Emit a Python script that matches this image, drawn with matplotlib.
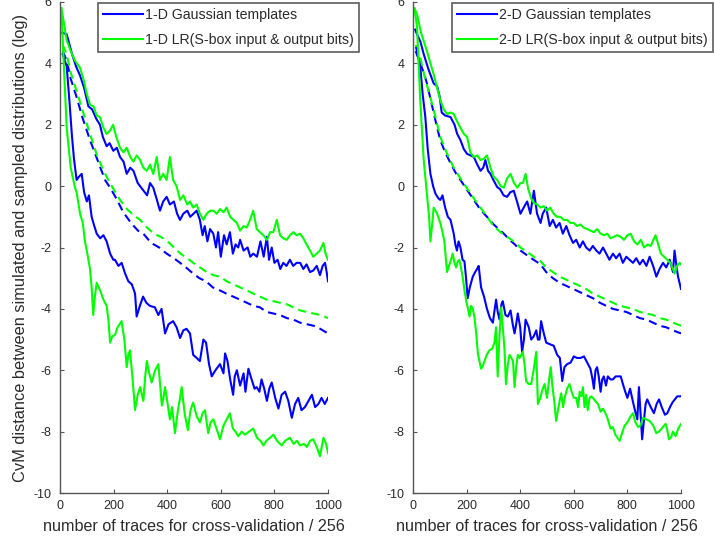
import matplotlib
matplotlib.use("Agg")
import matplotlib.pyplot as plt

plt.rcParams['font.family'] = ['Liberation Sans', 'DejaVu Sans']
plt.rcParams['axes.unicode_minus'] = False

# ---------------- 1-D panel ----------------
g1_up_x = [8,25,45,60,75,90,106,120,135,149,160,174,185,199,212,224,237,249,262,274,290,311,325,336,348,360,373,385,398,410,425,437,448,460,475,486,498,510,522,532,540,550,560,572,582,590,600,612,622,634,645,655,665,672,685,700,710,721,735,748,760,772,780,790,800,812,822,833,845,858,870,883,896,908,920,933,945,958,970,980,989,995,1000]
g1_up_y = [5.0,4.95,4.3,3.9,3.6,3.2,2.6,2.5,2.2,2.0,1.6,1.3,1.4,1.15,1.25,0.95,0.8,0.4,0.6,0.5,0.1,-0.14,-0.3,0.1,-0.05,-0.4,-0.8,-0.5,-0.35,-0.6,-0.5,-0.9,-1.1,-0.9,-0.8,-1.0,-0.9,-0.8,-1.1,-1.6,-1.3,-1.8,-1.4,-1.55,-2.0,-1.5,-2.3,-1.6,-1.9,-1.5,-2.2,-1.9,-2.0,-1.75,-2.1,-2.0,-2.3,-2.2,-2.3,-1.8,-2.3,-1.65,-2.4,-2.0,-2.5,-2.4,-2.7,-2.5,-2.6,-2.4,-2.6,-2.5,-2.5,-2.7,-2.55,-2.8,-2.75,-2.6,-2.9,-2.6,-2.5,-2.8,-3.1]

l1_up_x = [5,15,25,40,55,75,90,100,112,125,137,149,162,174,186,198,210,224,237,249,262,274,286,299,311,324,336,348,361,373,385,398,410,422,435,448,460,475,485,497,510,522,535,547,560,572,585,597,610,622,635,647,660,672,685,697,709,721,734,746,759,772,784,796,809,821,833,846,858,871,883,896,908,920,933,945,958,970,983,991,1000]
l1_up_y = [5.8,5.3,4.75,4.4,4.1,3.85,3.4,3.0,2.65,2.6,2.3,2.25,1.9,1.7,1.8,2.0,1.6,1.25,1.1,1.25,0.95,0.8,1.0,0.85,0.6,0.5,0.7,0.4,0.95,0.2,0.4,0.2,0.95,0.2,0.0,-0.45,-0.3,-0.6,-0.5,-0.7,-0.6,-0.9,-1.1,-0.9,-0.8,-0.8,-0.9,-0.75,-0.85,-0.7,-1.0,-1.1,-1.2,-1.45,-1.3,-1.35,-1.1,-0.8,-1.4,-1.5,-1.6,-1.75,-1.5,-1.5,-1.1,-1.6,-1.7,-1.75,-1.6,-1.5,-1.6,-1.55,-1.7,-1.9,-2.1,-2.3,-2.2,-2.1,-1.85,-2.2,-2.4]

g1_sim_x = [10,25,40,62,85,112,140,168,187,210,236,265,291,311,340,370,398,425,448,470,497,520,545,570,597,620,646,672,697,721,746,771,796,821,846,871,896,921,946,971,1000]
g1_sim_y = [4.4,4.1,3.5,2.9,2.2,1.5,0.85,0.2,-0.05,-0.4,-0.85,-1.2,-1.45,-1.55,-1.85,-2.0,-2.2,-2.35,-2.5,-2.65,-2.85,-3.0,-3.1,-3.3,-3.4,-3.5,-3.6,-3.7,-3.8,-3.9,-3.95,-4.1,-4.15,-4.2,-4.3,-4.35,-4.45,-4.5,-4.55,-4.65,-4.8]

l1_sim_x = [10,25,40,62,85,112,140,174,200,224,250,275,299,325,350,375,398,425,450,475,497,522,547,572,597,622,646,672,697,721,746,771,796,821,846,871,896,921,946,971,1000]
l1_sim_y = [4.6,4.3,3.7,3.1,2.45,1.7,0.95,0.3,-0.1,-0.45,-0.75,-0.95,-1.1,-1.35,-1.55,-1.65,-1.77,-2.0,-2.2,-2.35,-2.5,-2.65,-2.8,-2.9,-2.95,-3.1,-3.2,-3.3,-3.4,-3.5,-3.6,-3.7,-3.75,-3.8,-3.85,-3.95,-4.05,-4.1,-4.15,-4.2,-4.3]

g1_lo_x = [10,25,35,44,52,62,70,81,90,100,108,118,128,137,150,162,174,187,199,205,218,230,243,255,268,280,286,298,310,322,335,354,367,379,392,405,422,435,448,460,472,485,497,510,522,535,545,556,566,580,597,610,616,625,635,646,652,660,672,685,692,703,715,726,734,744,752,762,772,781,790,803,815,827,840,852,865,877,889,901,914,927,940,952,964,976,988,1000]
g1_lo_y = [4.3,3.9,2.8,1.7,0.9,0.2,0.3,0.4,-0.2,-0.5,-0.3,-1.0,-1.3,-1.55,-1.7,-1.6,-1.8,-2.2,-2.4,-2.4,-2.6,-2.5,-2.85,-3.1,-3.2,-3.5,-4.25,-3.9,-3.6,-3.8,-3.9,-3.95,-4.2,-4.0,-4.8,-4.5,-4.4,-4.6,-4.95,-4.7,-4.65,-4.8,-5.5,-5.6,-5.7,-5.0,-5.1,-5.8,-6.2,-6.0,-5.8,-6.1,-5.45,-5.7,-6.3,-6.8,-6.2,-6.0,-6.5,-6.1,-6.7,-5.95,-6.3,-6.6,-6.55,-6.7,-6.3,-6.6,-7.0,-6.6,-6.4,-6.9,-7.25,-6.8,-6.7,-7.0,-7.55,-7.1,-6.9,-7.3,-7.2,-7.0,-6.8,-7.2,-7.1,-6.9,-7.1,-6.9]

l1_lo_x = [5,15,25,40,56,62,75,85,93,102,112,118,124,130,137,150,162,174,181,187,195,205,215,230,240,249,255,261,270,280,290,299,311,318,324,333,342,355,367,374,380,386,392,400,410,418,429,440,448,454,465,477,487,497,510,522,532,541,553,562,572,584,597,610,622,634,645,655,665,678,690,705,721,735,748,759,770,784,796,810,827,840,858,872,884,896,910,921,933,945,958,970,983,993,1000]
l1_lo_y = [5.8,3.8,1.9,0.6,-0.05,-0.2,-0.9,-1.2,-1.8,-2.2,-2.7,-3.3,-4.2,-3.6,-3.15,-3.4,-3.7,-3.9,-4.4,-5.1,-4.9,-4.85,-4.6,-4.4,-5.0,-5.9,-5.5,-5.35,-6.2,-7.3,-6.8,-6.55,-7.0,-6.2,-5.7,-6.1,-6.4,-6.0,-5.8,-6.5,-7.15,-6.9,-6.55,-7.0,-7.6,-7.2,-8.05,-7.3,-6.9,-6.55,-7.4,-7.95,-7.3,-7.05,-7.5,-7.7,-7.4,-7.3,-8.05,-7.7,-7.6,-7.9,-8.25,-7.8,-7.6,-7.4,-7.9,-8.0,-8.15,-8.0,-8.1,-8.0,-7.9,-8.2,-8.3,-8.45,-8.3,-8.2,-8.1,-8.3,-8.45,-8.3,-8.2,-8.4,-8.3,-8.45,-8.4,-8.5,-8.3,-8.25,-8.5,-8.8,-8.2,-8.4,-8.7]

# ---------------- 2-D panel ----------------
g2_up_x = [8,15,28,40,58,77,90,100,107,120,140,155,165,177,190,202,215,227,240,252,262,270,280,289,300,314,325,338,351,363,376,388,401,413,426,438,451,463,476,484,497,510,522,534,547,559,572,584,597,609,622,634,646,659,671,684,696,709,721,733,746,758,771,783,796,808,821,833,846,858,871,883,896,908,920,933,945,958,970,976,983,989,1000]
g2_up_y = [5.1,4.95,4.7,4.3,3.8,3.35,3.25,2.9,2.4,2.3,2.25,2.0,1.7,1.5,1.2,1.05,1.0,0.95,0.7,0.5,0.6,0.85,0.5,0.4,0.2,-0.03,-0.1,-0.3,-0.35,-0.2,-0.15,-0.5,-0.9,-0.7,-0.5,-0.9,-0.15,-0.9,-1.2,-0.9,-0.7,-1.3,-1.1,-1.35,-1.2,-1.55,-1.3,-1.6,-1.85,-1.75,-2.0,-1.8,-2.0,-2.1,-1.95,-2.1,-2.2,-2.0,-2.2,-2.4,-2.2,-2.35,-2.2,-2.5,-2.3,-2.4,-2.5,-2.35,-2.55,-2.4,-2.6,-2.3,-2.6,-2.95,-2.7,-2.5,-2.65,-2.4,-2.8,-2.1,-2.6,-2.95,-3.35]

l2_up_x = [5,15,30,52,65,77,90,102,115,127,140,152,165,177,190,202,214,227,240,252,265,276,289,301,314,327,339,351,364,377,389,401,410,420,430,441,451,464,476,488,500,512,525,537,550,562,575,587,600,612,625,637,650,662,675,687,700,712,725,737,750,762,775,787,800,812,825,837,850,862,875,887,897,905,915,925,937,949,960,970,976,985,995,1000]
l2_up_y = [5.8,5.6,5.0,4.4,4.0,3.65,3.2,2.8,2.5,2.35,2.4,2.35,2.1,1.9,1.7,1.6,1.1,0.95,1.0,0.85,0.9,1.0,0.6,0.3,0.2,0.0,-0.05,0.25,0.4,0.1,-0.05,0.1,0.1,0.4,-0.1,-0.4,-0.55,-0.6,-0.7,-0.65,-0.8,-0.7,-0.9,-1.0,-1.0,-1.1,-1.1,-1.2,-1.2,-1.3,-1.25,-1.35,-1.4,-1.45,-1.5,-1.4,-1.55,-1.6,-1.55,-1.7,-1.65,-1.6,-1.65,-1.75,-1.6,-1.55,-1.8,-1.9,-1.75,-2.0,-1.9,-1.95,-1.75,-1.6,-1.9,-2.2,-2.3,-2.4,-2.5,-2.7,-2.85,-2.6,-2.5,-2.55]

g2_sim_x = [10,27,40,52,65,77,90,102,120,140,158,177,200,227,250,276,301,320,339,360,380,401,425,450,476,497,522,547,572,597,622,646,671,697,721,746,771,796,821,846,871,896,920,945,970,1000]
g2_sim_y = [4.4,4.0,3.7,3.35,2.85,2.4,1.9,1.5,1.1,0.75,0.45,0.2,-0.1,-0.45,-0.75,-1.0,-1.25,-1.4,-1.55,-1.75,-1.9,-2.1,-2.25,-2.4,-2.55,-2.8,-3.0,-3.15,-3.25,-3.35,-3.45,-3.55,-3.65,-3.8,-3.9,-4.0,-4.05,-4.1,-4.2,-4.3,-4.35,-4.45,-4.55,-4.6,-4.7,-4.8]

l2_sim_x = [10,27,45,65,85,102,125,152,177,200,227,252,276,301,326,351,376,401,426,451,476,497,522,547,572,597,622,646,671,697,721,746,771,796,821,846,871,896,920,945,970,1000]
l2_sim_y = [4.6,4.2,3.5,2.9,2.2,1.6,1.1,0.6,0.25,-0.05,-0.4,-0.7,-1.0,-1.3,-1.5,-1.65,-1.8,-2.0,-2.15,-2.3,-2.45,-2.65,-2.8,-2.95,-3.05,-3.15,-3.25,-3.35,-3.5,-3.6,-3.7,-3.8,-3.9,-3.95,-4.0,-4.1,-4.15,-4.2,-4.3,-4.35,-4.45,-4.55]

g2_lo_x = [12,27,36,46,55,65,75,84,95,102,110,120,130,140,152,158,164,170,177,185,192,198,204,212,223,232,239,245,254,265,276,287,298,305,310,316,323,330,335,345,354,364,372,379,385,391,400,407,414,420,432,441,450,460,466,472,478,488,497,510,525,538,548,557,565,575,588,600,612,625,638,650,662,670,675,681,687,693,700,706,712,720,727,737,746,756,766,775,785,792,800,810,820,828,837,843,849,855,862,868,874,887,899,909,918,928,940,949,959,968,977,986,1000]
g2_lo_y = [4.5,3.9,3.0,2.25,1.2,0.4,0.0,-0.25,-0.4,-0.45,-0.3,-0.7,-1.0,-1.1,-1.55,-1.9,-2.1,-1.8,-2.0,-2.4,-2.45,-3.0,-3.65,-3.3,-2.95,-2.8,-2.7,-2.6,-3.3,-3.6,-4.0,-4.3,-4.45,-4.0,-3.7,-4.1,-4.35,-3.85,-3.75,-4.2,-4.25,-4.05,-4.5,-4.8,-4.5,-4.15,-4.6,-5.4,-5.0,-4.35,-4.6,-5.0,-4.9,-4.7,-5.0,-5.0,-4.4,-4.8,-5.1,-5.15,-5.2,-5.5,-5.6,-6.35,-5.9,-5.8,-5.75,-5.55,-5.6,-5.6,-5.55,-5.75,-5.95,-6.3,-6.6,-6.0,-5.9,-6.2,-6.7,-6.3,-6.2,-6.5,-6.2,-6.3,-6.3,-6.2,-6.2,-6.2,-6.5,-6.7,-6.9,-6.6,-7.0,-7.3,-7.6,-6.55,-7.4,-8.25,-7.6,-7.1,-6.95,-7.2,-7.4,-7.1,-6.95,-7.2,-7.45,-7.4,-7.2,-7.05,-6.95,-6.85,-6.85]

l2_lo_x = [5,15,27,40,52,60,65,72,77,84,90,102,110,117,127,134,142,148,155,161,167,173,180,186,192,198,204,211,217,223,229,236,242,248,254,261,267,275,285,295,304,310,316,322,329,335,341,347,354,360,367,373,379,385,391,398,404,410,416,422,432,441,450,460,466,475,484,491,500,508,514,520,527,534,541,547,553,560,566,575,584,592,600,609,616,622,628,634,640,646,652,659,665,671,680,690,700,709,718,727,737,746,755,763,771,780,790,800,812,821,830,840,849,858,870,883,896,908,918,928,937,943,950,955,962,970,980,990,1000]
l2_lo_y = [5.8,5.2,2.8,0.85,-0.25,-1.0,-1.8,-1.2,-0.7,-0.8,-0.9,-1.2,-1.5,-1.8,-2.8,-2.6,-2.4,-2.2,-2.5,-2.65,-2.45,-2.4,-2.7,-3.0,-3.4,-3.7,-3.95,-4.25,-3.9,-4.0,-4.25,-4.8,-5.45,-5.7,-5.95,-5.85,-5.7,-5.5,-5.35,-5.3,-5.1,-4.6,-6.2,-5.0,-3.95,-4.6,-5.25,-6.45,-5.8,-5.5,-5.6,-5.7,-6.55,-5.9,-5.5,-5.6,-5.5,-5.4,-5.8,-6.35,-6.45,-6.45,-6.0,-5.4,-7.1,-6.9,-6.6,-6.45,-6.9,-6.3,-5.9,-6.5,-7.0,-7.65,-7.3,-7.0,-6.75,-7.2,-6.9,-6.6,-6.45,-6.7,-6.9,-6.9,-7.2,-6.7,-6.85,-6.55,-7.2,-6.8,-7.3,-6.9,-6.85,-6.9,-7.0,-7.1,-7.35,-7.25,-7.4,-7.6,-7.9,-7.85,-8.1,-8.2,-8.3,-8.05,-7.8,-7.7,-7.5,-7.4,-7.7,-7.85,-7.8,-7.55,-7.6,-7.65,-7.8,-8.05,-8.0,-7.9,-7.8,-7.75,-8.0,-8.25,-8.2,-8.0,-8.15,-7.9,-7.75]

legend_1d = ['1-D Gaussian templates', '1-D LR(S-box input & output bits)']
legend_2d = ['2-D Gaussian templates', '2-D LR(S-box input & output bits)']
x_ticks = [0, 200, 400, 600, 800, 1000]
y_ticks = [-10, -8, -6, -4, -2, 0, 2, 4, 6]
xlabel = 'number of traces for cross-validation / 256'
ylabel = 'CvM distance between simulated and sampled distributions (log)'

BLUE = '#0000ff'
GREEN = '#00ff00'
TXT = '#2b2b2b'
SPINE = '#555555'
LW = 1.5

fig = plt.figure(figsize=(7.14, 5.44), dpi=100)
axL = fig.add_axes([60/714, 1-493/544, 268/714, 491/544])
axR = fig.add_axes([413/714, 1-493/544, 268/714, 491/544])

panels = [
    (axL, (g1_up_x, g1_up_y), (l1_up_x, l1_up_y), (g1_sim_x, g1_sim_y), (l1_sim_x, l1_sim_y),
     (g1_lo_x, g1_lo_y), (l1_lo_x, l1_lo_y), legend_1d, 98/714),
    (axR, (g2_up_x, g2_up_y), (l2_up_x, l2_up_y), (g2_sim_x, g2_sim_y), (l2_sim_x, l2_sim_y),
     (g2_lo_x, g2_lo_y), (l2_lo_x, l2_lo_y), legend_2d, 452/714),
]

for ax, gu, lu, gs, ls, gl, ll, leg, lx in panels:
    hb, = ax.plot(*gu, color=BLUE, lw=LW, label=leg[0])
    hg, = ax.plot(*lu, color=GREEN, lw=LW, label=leg[1])
    ax.plot(*gs, color=BLUE, lw=LW, dashes=(4, 2.5))
    ax.plot(*ls, color=GREEN, lw=LW, dashes=(4, 2.5))
    ax.plot(*gl, color=BLUE, lw=LW)
    ax.plot(*ll, color=GREEN, lw=LW)
    ax.set_xlim(0, 1000)
    ax.set_ylim(-10, 6)
    ax.set_xticks(x_ticks)
    ax.set_yticks(y_ticks)
    ax.spines['top'].set_visible(False)
    ax.spines['right'].set_visible(False)
    for s in ('left', 'bottom'):
        ax.spines[s].set_color(SPINE)
        ax.spines[s].set_linewidth(1.0)
    ax.tick_params(direction='in', length=3, width=0.8, color=SPINE,
                   labelsize=9, labelcolor=TXT)
    ax.tick_params(axis='y', pad=6)
    ax.tick_params(axis='x', pad=5)
    ax.set_xlabel(xlabel, fontsize=11.6, color=TXT, labelpad=5)
    lg = ax.legend(handles=[hb, hg], loc='upper left',
                   bbox_to_anchor=(lx, 1 - 3/544), bbox_transform=fig.transFigure,
                   borderaxespad=0, fontsize=10.2, frameon=True, fancybox=False,
                   handlelength=2.85, handletextpad=0.15, borderpad=0.35,
                   labelspacing=0.8)
    lg.get_frame().set_edgecolor('#333333')
    lg.get_frame().set_linewidth(1.2)
    for t in lg.get_texts():
        t.set_color(TXT)

axL.set_ylabel(ylabel, fontsize=11.8, color=TXT, labelpad=4)

fig.savefig('out.png', dpi=100)
